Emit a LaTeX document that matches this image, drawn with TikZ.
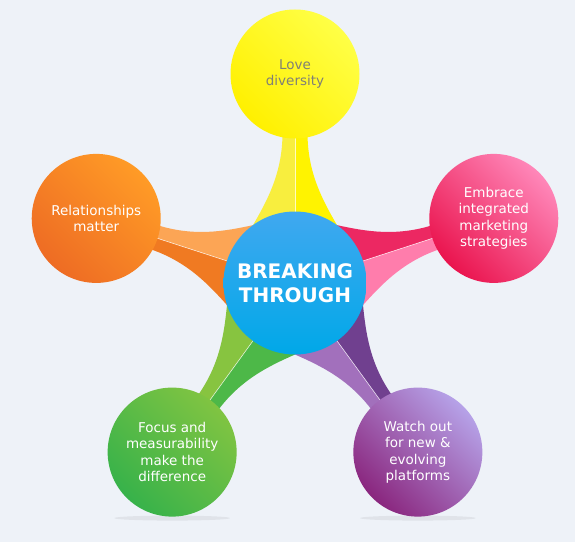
\documentclass[tikz,border=0pt]{standalone}
\usepackage{fontspec}
\setmainfont{DejaVu Sans}
\usetikzlibrary{calc}
\definecolor{bg}{RGB}{238,242,248}
\definecolor{yA}{RGB}{248,238,62}\definecolor{yB}{RGB}{255,243,0}
\definecolor{oA}{RGB}{240,122,34}\definecolor{oB}{RGB}{252,165,85}
\definecolor{pA}{RGB}{236,40,98}\definecolor{pB}{RGB}{255,125,172}
\definecolor{gA}{RGB}{77,184,72}\definecolor{gB}{RGB}{135,196,64}
\definecolor{uA}{RGB}{112,64,143}\definecolor{uB}{RGB}{162,112,188}
\definecolor{ytxt}{RGB}{128,128,118}
\definecolor{hubT}{RGB}{64,168,240}\definecolor{hubB}{RGB}{0,168,232}
\definecolor{yT}{RGB}{255,255,70}\definecolor{yBo}{RGB}{255,240,0}
\definecolor{oT}{RGB}{255,155,38}\definecolor{oBo}{RGB}{238,108,36}
\definecolor{pT}{RGB}{255,135,185}\definecolor{pBo}{RGB}{234,20,78}
\definecolor{gT}{RGB}{128,196,66}\definecolor{gBo}{RGB}{55,178,74}
\definecolor{uT}{RGB}{182,162,232}\definecolor{uBo}{RGB}{138,38,126}
\tikzset{
  sat/.style={circle, minimum size=129pt, inner sep=0pt, align=center,
    font=\fontsize{13.5}{16.5}\selectfont, text=white},
  satshade/.style 2 args={shading=axis, top color=#1, bottom color=#2, shading angle=-45},
  hub/.style={circle, minimum size=143pt, inner sep=0pt, align=center,
    font=\bfseries\fontsize{20}{24.5}\selectfont, text=white, shading=axis,
    top color=hubT, bottom color=hubB},
  divider/.style={white, opacity=0.75, line width=0.6pt},
  shadowell/.style={black, opacity=0.06}
}
\begin{document}
\begin{tikzpicture}[x=1pt,y=1pt]
\fill[bg] (0,0) rectangle (575,542);
\useasboundingbox (0,0) rectangle (575,542);
\coordinate (cC) at (295,259);
\coordinate (cY) at ($(cC)+(90:209)$);
\coordinate (cO) at ($(cC)+(162:209)$);
\coordinate (cG) at ($(cC)+(234:209)$);
\coordinate (cU) at ($(cC)+(306:209)$);
\coordinate (cP) at ($(cC)+(18:209)$);
% connectors
\foreach \ang/\ccw/\cw in {90/yA/yB, 162/oA/oB, 234/gA/gB, 306/uA/uB, 18/pA/pB}{
  \begin{scope}[shift={(cC)}, rotate=\ang-90]
    \fill[\ccw] (0,0) -- (126:71.5) .. controls (-28,82) and (-12.5,110) .. (-12.5,150) -- (0,150) -- cycle;
    \fill[\cw] (0,0) -- (54:71.5) .. controls (28,82) and (12.5,110) .. (12.5,150) -- (0,150) -- cycle;
    \draw[divider] (0,70) -- (0,146);
  \end{scope}
}
% shadows
\fill[shadowell] ($(cG)+(0,-66)$) ellipse (58 and 2.5);
\fill[shadowell] ($(cU)+(0,-66)$) ellipse (58 and 2.5);
% satellites
\node[sat, satshade={yT}{yBo}, text=ytxt] (ny) at (cY) {Love\\diversity};
\node[sat, satshade={oT}{oBo}] (no) at (cO) {Relationships\\matter};
\node[sat, satshade={pT}{pBo}] (np) at (cP) {Embrace\\integrated\\marketing\\strategies};
\node[sat, satshade={gT}{gBo}] (ng) at (cG) {Focus and\\measurability\\make the\\difference};
\node[sat, satshade={uT}{uBo}] (nu) at (cU) {Watch out\\for new \&\\evolving\\platforms};
% hub
\node[hub] (hub) at (cC) {BREAKING\\THROUGH};
\end{tikzpicture}
\end{document}
